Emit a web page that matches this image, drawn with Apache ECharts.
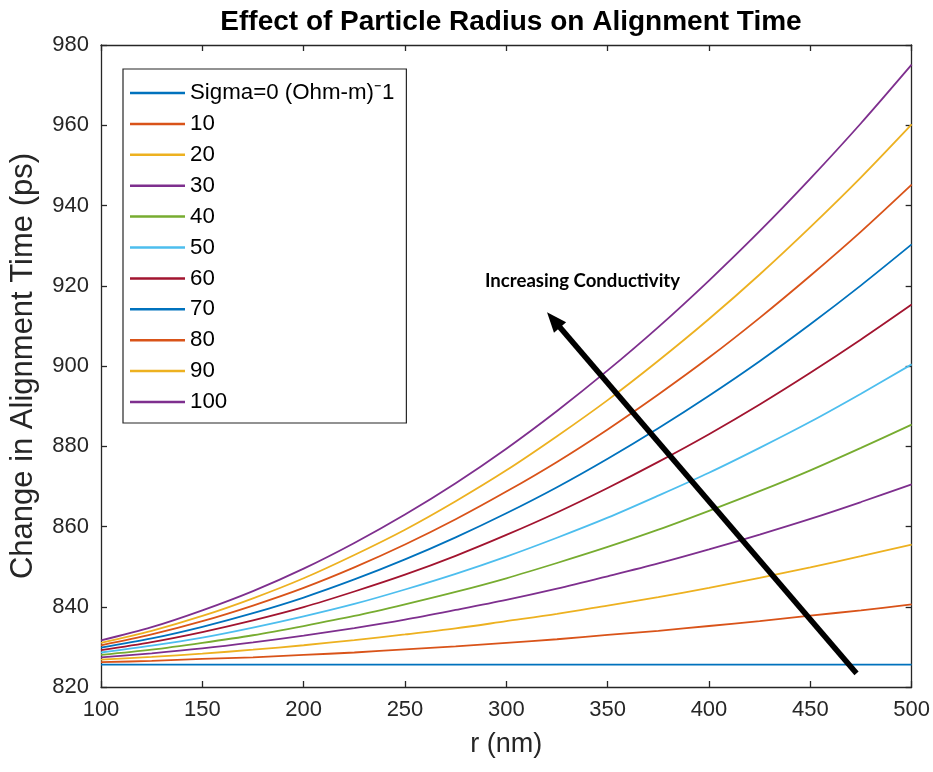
<!DOCTYPE html>
<html>
<head>
<meta charset="utf-8">
<script src="https://cdn.jsdelivr.net/npm/echarts@6/dist/echarts.min.js"></script>
<style>
html,body{margin:0;padding:0;background:#fff;}
#chart{width:933px;height:772px;}
</style>
</head>
<body>
<div id="chart"></div>
<script>
// ---- data ----
const radius = [100, 125, 150, 175, 200, 225, 250, 275, 300, 325, 350, 375, 400, 425, 450, 475, 500];
const seriesNames = ['Sigma=0 (Ohm-m)\u207B1', '10', '20', '30', '40', '50', '60', '70', '80', '90', '100'];
const sigma0   = [825.6, 825.6, 825.6, 825.6, 825.6, 825.6, 825.6, 825.6, 825.6, 825.6, 825.6, 825.6, 825.6, 825.6, 825.6, 825.6, 825.6];
const sigma10  = [826.2, 826.5, 827.0, 827.4, 828.0, 828.6, 829.4, 830.1, 831.0, 831.9, 833.0, 834.0, 835.2, 836.4, 837.8, 839.1, 840.6];
const sigma20  = [826.8, 827.5, 828.3, 829.3, 830.4, 831.7, 833.1, 834.6, 836.4, 838.2, 840.3, 842.4, 844.7, 847.2, 849.8, 852.6, 855.5];
const sigma30  = [827.4, 828.4, 829.6, 831.1, 832.8, 834.7, 836.8, 839.2, 841.7, 844.5, 847.6, 850.8, 854.3, 858.0, 861.9, 866.1, 870.5];
const sigma40  = [828.0, 829.3, 831.0, 832.9, 835.2, 837.7, 840.6, 843.7, 847.1, 850.9, 854.9, 859.2, 863.9, 868.8, 874.0, 879.6, 885.4];
const sigma50  = [828.6, 830.3, 832.3, 834.8, 837.6, 840.7, 844.3, 848.2, 852.5, 857.2, 862.2, 867.7, 873.4, 879.6, 886.1, 893.1, 900.4];
const sigma60  = [829.2, 831.2, 833.7, 836.6, 839.9, 843.8, 848.0, 852.7, 857.9, 863.5, 869.6, 876.1, 883.0, 890.4, 898.3, 906.6, 915.3];
const sigma70  = [829.8, 832.1, 835.0, 838.4, 842.3, 846.8, 851.8, 857.3, 863.3, 869.8, 876.9, 884.5, 892.6, 901.2, 910.4, 920.1, 930.3];
const sigma80  = [830.4, 833.1, 836.4, 840.3, 844.7, 849.8, 855.5, 861.8, 868.7, 876.1, 884.2, 892.9, 902.1, 912.0, 922.5, 933.5, 945.2];
const sigma90  = [831.0, 834.0, 837.7, 842.1, 847.1, 852.9, 859.2, 866.3, 874.0, 882.5, 891.5, 901.3, 911.7, 922.8, 934.6, 947.0, 960.2];
const sigma100 = [831.6, 834.9, 839.1, 843.9, 849.5, 855.9, 863.0, 870.8, 879.4, 888.8, 898.9, 909.7, 921.3, 933.6, 946.7, 960.5, 975.1];
const allSeries = [sigma0, sigma10, sigma20, sigma30, sigma40, sigma50, sigma60, sigma70, sigma80, sigma90, sigma100];
const xTicks = { min: 100, max: 500, interval: 50 };
const yTicks = { min: 820, max: 980, interval: 20 };
// annotation arrow (data coordinates): tail -> head
const arrowTail = [472.8, 823.4];
const arrowHead = [323.3, 911.5];
const annotationText = 'Increasing Conductivity';

const colors = ['#0072BD', '#D95319', '#EDB120', '#7E2F8E', '#77AC30', '#4DBEEE', '#A2142F'];
const axisColor = '#262626';
const font = '"Liberation Sans", Arial, sans-serif';

const chart = echarts.init(document.getElementById('chart'), null, { renderer: 'canvas' });

const series = allSeries.map((vals, i) => ({
  name: seriesNames[i],
  type: 'line',
  data: radius.map((r, j) => [r, vals[j]]),
  showSymbol: false,
  smooth: 0.3,
  lineStyle: { width: 1.8, color: colors[i % colors.length] },
  itemStyle: { color: colors[i % colors.length] },
  emphasis: { disabled: true },
  z: 2
}));

series.push({
  name: '__arrow',
  type: 'line',
  data: [],
  silent: true,
  markLine: {
    silent: true,
    symbol: ['none', 'triangle'],
    symbolSize: [16, 20],
    label: { show: false },
    lineStyle: { color: '#000', width: 5.5, type: 'solid' },
    itemStyle: { color: '#000' },
    emphasis: { disabled: true },
    data: [[{ coord: arrowTail }, { coord: arrowHead }]]
  },
  z: 5
});

const option = {
  backgroundColor: '#fff',
  animation: false,
  color: colors,
  title: {
    text: 'Effect of Particle Radius on Alignment Time',
    left: 506,
    textAlign: 'center',
    top: 3,
    textStyle: { fontFamily: font, fontWeight: 'bold', fontSize: 28, color: '#000' }
  },
  grid: { left: 100, right: 21, top: 45, bottom: 85, containLabel: false },
  legend: {
    data: seriesNames,
    orient: 'vertical',
    left: 123,
    top: 69,
    padding: [13, 12, 10, 7],
    itemGap: 8.9,
    itemWidth: 55,
    itemHeight: 2.5,
    icon: 'rect',
    backgroundColor: '#fff',
    borderColor: axisColor,
    borderWidth: 1.2,
    borderRadius: 0,
    selectedMode: false,
    textStyle: { fontFamily: font, fontSize: 22.3, color: '#000', lineHeight: 22 }
  },
  xAxis: [{
    type: 'value',
    min: xTicks.min, max: xTicks.max, interval: xTicks.interval,
    name: 'r (nm)',
    nameLocation: 'middle',
    nameGap: 44,
    nameTextStyle: { fontFamily: font, fontSize: 27, color: axisColor },
    axisLine: { show: true, lineStyle: { color: axisColor, width: 1.3 } },
    axisTick: { show: true, inside: true, length: 6, lineStyle: { color: axisColor, width: 1.3 } },
    axisLabel: { fontFamily: font, fontSize: 22, color: axisColor, margin: 12 },
    splitLine: { show: false }
  }, {
    type: 'value', position: 'top',
    min: xTicks.min, max: xTicks.max, interval: xTicks.interval,
    axisLine: { show: true, lineStyle: { color: axisColor, width: 1.3 } },
    axisTick: { show: true, inside: true, length: 6, lineStyle: { color: axisColor, width: 1.3 } },
    axisLabel: { show: false },
    splitLine: { show: false }
  }],
  yAxis: [{
    type: 'value',
    min: yTicks.min, max: yTicks.max, interval: yTicks.interval,
    name: 'Change in Alignment Time (ps)',
    nameLocation: 'middle',
    nameGap: 62,
    nameTextStyle: { fontFamily: font, fontSize: 31, color: axisColor },
    axisLine: { show: true, lineStyle: { color: axisColor, width: 1.3 } },
    axisTick: { show: true, inside: true, length: 6, lineStyle: { color: axisColor, width: 1.3 } },
    axisLabel: { fontFamily: font, fontSize: 22, color: axisColor, margin: 12 },
    splitLine: { show: false }
  }, {
    type: 'value', position: 'right',
    min: yTicks.min, max: yTicks.max, interval: yTicks.interval,
    axisLine: { show: true, lineStyle: { color: axisColor, width: 1.3 } },
    axisTick: { show: true, inside: true, length: 6, lineStyle: { color: axisColor, width: 1.3 } },
    axisLabel: { show: false },
    splitLine: { show: false }
  }],
  graphic: [{
    type: 'text',
    left: 485,
    top: 271,
    z: 10,
    style: {
      text: annotationText,
      fontFamily: 'Lato, "Open Sans", sans-serif',
      fontWeight: 'bold',
      fontSize: 18.6,
      fill: '#000'
    }
  }],
  series: series
};

chart.setOption(option);
</script>
</body>
</html>
